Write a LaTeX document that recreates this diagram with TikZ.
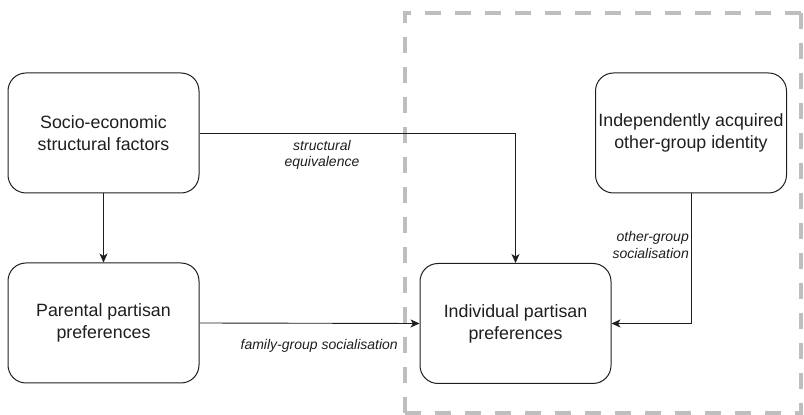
\documentclass[tikz,border=0pt]{standalone}
\usepackage{fontspec}
\setmainfont{Liberation Sans}
\usetikzlibrary{arrows.meta}
\definecolor{dashgray}{RGB}{190,190,190}
\definecolor{ink}{RGB}{30,30,30}
\tikzset{
  box/.style={draw=ink, line width=1pt, rounded corners=18pt, minimum width=191pt, minimum height=120pt, align=center, text=ink, font=\fontsize{17.8}{22}\selectfont, inner sep=0pt},
  conn/.style={draw=ink, line width=0.9pt, -{Stealth[length=9pt,width=8pt,inset=2.5pt]}},
  lbl/.style={font=\fontsize{14}{16}\itshape, text=ink, align=center, inner sep=0pt},
  region/.style={draw=dashgray, line width=4.5pt, dash pattern=on 16pt off 14pt}
}
\begin{document}
\begin{tikzpicture}[x=1pt,y=1pt]
\useasboundingbox (0,0) rectangle (804,415);
\draw[region] (405,2) -- (405,402) -- (801,402);
\draw[region] (801,402) -- (801,2) -- (405,2);
\node[box] (A) at (103.5,282) {Socio-economic\\structural factors};
\node[box] (B) at (103.5,92) {Parental partisan\\preferences};
\node[box] (C) at (515.5,91.5) {Individual partisan\\preferences};
\node[box] (D) at (691,282) {Independently acquired\\other-group identity};
\draw[conn] (A.south) -- (B.north);
\draw[conn] (A.east) -| (C.north);
\draw[conn] (B.east) -- (C.west);
\draw[conn] (D.south) |- (C.east);
\node[lbl] (l1) at (322,260) {structural\\equivalence};
\node[lbl, anchor=east, align=right] (l2) at (689,170) {other-group\\socialisation};
\node[lbl, anchor=east] (l3) at (398,69) {family-group socialisation};
\end{tikzpicture}
\end{document}
